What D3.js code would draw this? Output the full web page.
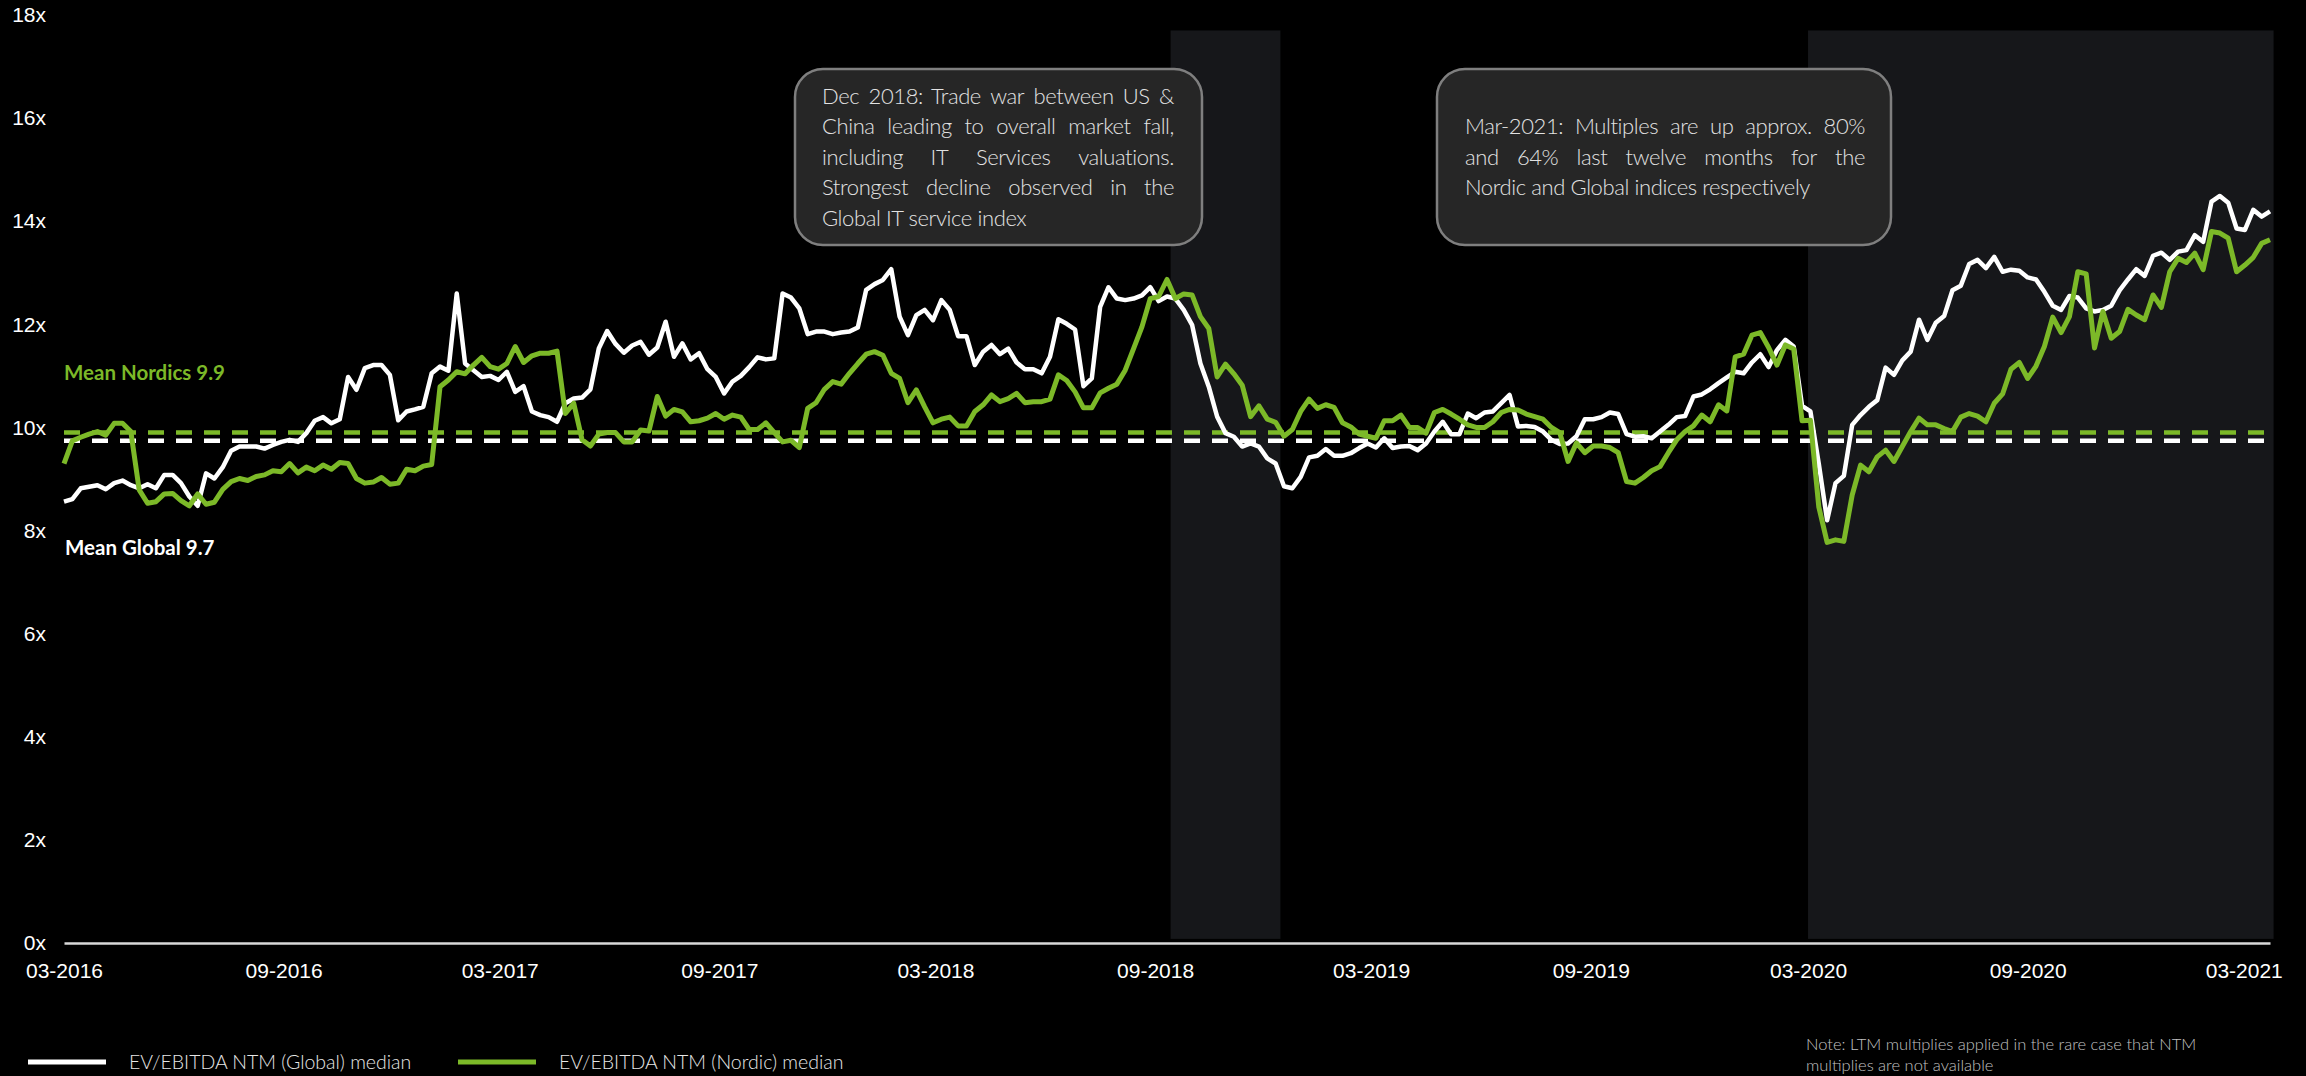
<!DOCTYPE html>
<html><head><meta charset="utf-8">
<script src="https://cdn.jsdelivr.net/npm/d3@7"></script>
<style>
html,body{margin:0;padding:0;background:#000;}
svg{display:block;}
</style></head>
<body>
<svg id="chart" width="2306" height="1076"></svg>
<script>
// ---------- DATA ----------
const seriesStart = "2016-03-01";   // first weekly observation
const seriesEnd = "2021-03-23";     // last weekly observation
const globalMedian = [
8.56,8.61,8.82,8.85,8.88,8.80,8.92,8.97,8.88,8.82,8.90,8.82,9.08,9.08,8.92,8.66,8.48,9.11,9.01,9.23,
9.55,9.63,9.63,9.63,9.59,9.66,9.72,9.76,9.72,9.89,10.13,10.20,10.08,10.16,10.98,10.73,11.15,11.21,11.21,11.02,
10.14,10.31,10.35,10.40,11.05,11.18,11.10,12.60,11.24,11.11,10.98,11.00,10.92,11.08,10.69,10.80,10.31,10.24,10.20,10.11,
10.47,10.56,10.58,10.74,11.53,11.87,11.62,11.45,11.59,11.66,11.41,11.55,12.05,11.37,11.63,11.32,11.44,11.13,10.98,10.66,
10.89,11.00,11.17,11.36,11.32,11.34,12.60,12.52,12.31,11.81,11.86,11.86,11.81,11.84,11.86,11.94,12.67,12.78,12.86,13.07,
12.15,11.79,12.18,12.28,12.08,12.47,12.28,11.77,11.77,11.21,11.47,11.60,11.42,11.53,11.26,11.13,11.13,11.05,11.37,12.10,
12.01,11.90,10.80,10.95,12.34,12.72,12.50,12.47,12.50,12.56,12.72,12.45,12.54,12.50,12.28,11.99,11.24,10.79,10.21,9.89,
9.82,9.63,9.69,9.63,9.40,9.30,8.86,8.82,9.04,9.42,9.45,9.58,9.45,9.45,9.50,9.60,9.69,9.61,9.79,9.60,
9.63,9.64,9.56,9.69,9.92,10.11,9.87,9.87,10.27,10.18,10.29,10.31,10.47,10.63,10.02,10.03,10.01,9.92,9.76,9.68,
9.69,9.83,10.16,10.16,10.20,10.29,10.26,9.87,9.82,9.83,9.79,9.92,10.05,10.20,10.22,10.60,10.64,10.74,10.86,10.97,
11.08,11.05,11.26,11.42,11.17,11.50,11.70,11.57,10.42,10.31,9.30,8.20,8.92,9.06,10.05,10.24,10.40,10.53,11.16,11.02,
11.30,11.47,12.09,11.70,12.03,12.16,12.66,12.75,13.17,13.25,13.09,13.31,13.02,13.06,13.04,12.91,12.87,12.63,12.36,12.28,
12.55,12.52,12.31,12.25,12.28,12.36,12.66,12.87,13.07,12.94,13.33,13.39,13.25,13.41,13.44,13.73,13.60,14.38,14.49,14.36,
13.86,13.83,14.22,14.09,14.19
];
const nordicMedian = [
9.30,9.74,9.81,9.87,9.92,9.85,10.08,10.08,9.92,8.79,8.53,8.56,8.71,8.72,8.58,8.48,8.71,8.51,8.55,8.80,
8.95,9.01,8.97,9.05,9.08,9.16,9.14,9.30,9.12,9.23,9.16,9.27,9.19,9.32,9.30,9.01,8.92,8.94,9.03,8.90,
8.92,9.19,9.16,9.25,9.28,10.79,10.92,11.08,11.04,11.21,11.36,11.18,11.13,11.24,11.57,11.26,11.39,11.44,11.44,11.48,
10.27,10.47,9.76,9.64,9.87,9.90,9.90,9.72,9.72,9.95,9.93,10.60,10.22,10.35,10.30,10.11,10.13,10.18,10.27,10.16,
10.24,10.20,9.96,9.96,10.09,9.90,9.72,9.75,9.61,10.37,10.48,10.74,10.89,10.84,11.05,11.24,11.42,11.47,11.40,11.05,
10.95,10.48,10.73,10.40,10.09,10.16,10.20,10.03,10.03,10.31,10.44,10.63,10.50,10.56,10.66,10.48,10.50,10.50,10.55,11.02,
10.91,10.69,10.38,10.38,10.67,10.76,10.84,11.11,11.53,11.95,12.50,12.54,12.87,12.50,12.59,12.57,12.15,11.92,10.98,11.23,
11.04,10.82,10.21,10.42,10.16,10.10,9.83,9.96,10.31,10.55,10.37,10.44,10.39,10.09,10.01,9.87,9.83,9.79,10.13,10.13,
10.24,10.00,10.00,9.89,10.29,10.35,10.26,10.16,10.05,10.00,10.00,10.11,10.29,10.35,10.34,10.26,10.21,10.16,10.00,9.90,
9.34,9.70,9.51,9.64,9.64,9.61,9.51,8.95,8.92,9.03,9.16,9.24,9.51,9.76,9.92,10.03,10.24,10.11,10.44,10.32,
11.37,11.42,11.79,11.84,11.55,11.21,11.60,11.52,10.13,10.14,8.46,7.77,7.82,7.79,8.69,9.27,9.14,9.43,9.56,9.34,
9.63,9.92,10.18,10.05,10.05,9.98,9.92,10.20,10.27,10.22,10.11,10.47,10.65,11.13,11.26,10.95,11.19,11.57,12.14,11.84,
12.15,13.02,12.98,11.54,12.25,11.73,11.86,12.29,12.18,12.09,12.57,12.33,13.02,13.28,13.20,13.38,13.06,13.80,13.77,13.67,
13.02,13.15,13.30,13.57,13.64
];
const meanNordic = 9.9;
const meanGlobal = 9.74;
const yTicks = [0, 2, 4, 6, 8, 10, 12, 14, 16, 18];
const xTickDates = ["2016-03-01","2016-09-01","2017-03-01","2017-09-01","2018-03-01","2018-09-01",
                    "2019-03-01","2019-09-01","2020-03-01","2020-09-01","2021-03-01"];
const xTickLabels = ["03-2016","09-2016","03-2017","09-2017","03-2018","09-2018",
                     "03-2019","09-2019","03-2020","09-2020","03-2021"];
const shadedPeriods = [["2018-09-14","2018-12-15"],["2020-03-01","2021-03-26"]];
const annotation1 = ["Dec 2018: Trade war between US &","China leading to overall market fall,",
  "including IT Services valuations.","Strongest decline observed in the","Global IT service index"];
const annotation2 = ["Mar-2021: Multiples are up approx. 80%","and 64% last twelve months for the",
  "Nordic and Global indices respectively"];
const legendLabels = ["EV/EBITDA NTM (Global) median","EV/EBITDA NTM (Nordic) median"];
const noteLines = ["Note: LTM multiplies applied in the rare case that NTM","multiplies are not available"];

// ---------- STYLE ----------
const GREEN = "#7cb928";
const WHITE = "#ffffff";
const LABEL_FONT = "'Liberation Sans', Arial, sans-serif";
const TEXT_FONT = "Lato, 'Open Sans', sans-serif";

const parse = d3.utcParse("%Y-%m-%d");
const svg = d3.select("#chart");
svg.append("rect").attr("width", 2306).attr("height", 1076).attr("fill", "#000");

const t0 = parse(seriesStart);
const dates = globalMedian.map((_, i) => d3.utcDay.offset(t0, 7 * i));

const x = d3.scaleUtc().domain([t0, parse(seriesEnd)]).range([64, 2270]);
const y = d3.scaleLinear().domain([0, 18]).range([943, 15]);

// shaded periods
svg.append("g").selectAll("rect").data(shadedPeriods).join("rect")
  .attr("x", d => x(parse(d[0])))
  .attr("width", d => x(parse(d[1])) - x(parse(d[0])))
  .attr("y", y(17.7))
  .attr("height", y(0.08) - y(17.7))
  .attr("fill", "#16171a");

// y axis
const yAxis = svg.append("g").attr("transform", `translate(${x.range()[0]},0)`)
  .call(d3.axisLeft(y).tickValues(yTicks).tickFormat(d => d + "x").tickSize(0).tickPadding(18));
yAxis.select(".domain").remove();
yAxis.selectAll("text").attr("fill", "#fff").style("font-family", LABEL_FONT).style("font-size", "21px");

// x axis
const xAxis = svg.append("g").attr("transform", `translate(0,${y(0)})`)
  .call(d3.axisBottom(x).tickValues(xTickDates.map(parse))
    .tickFormat((d, i) => xTickLabels[i]).tickSize(0).tickSizeOuter(0).tickPadding(20));
xAxis.select(".domain").attr("stroke", "#d9d9d9").attr("stroke-width", 2.5);
xAxis.selectAll("text").attr("fill", "#fff").style("font-family", LABEL_FONT).style("font-size", "21px");

// mean lines
const meanG = svg.append("g");
[[meanNordic, GREEN], [meanGlobal, WHITE]].forEach(([m, c]) => {
  meanG.append("line")
    .attr("x1", x.range()[0]).attr("x2", x.range()[1])
    .attr("y1", y(m)).attr("y2", y(m))
    .attr("stroke", c).attr("stroke-width", 4.5).attr("stroke-dasharray", "16,12");
});

// series lines
const line = d3.line().x((d, i) => x(dates[i])).y(d => y(d)).curve(d3.curveLinear);
svg.append("path").datum(globalMedian).attr("d", line)
  .attr("fill", "none").attr("stroke", WHITE).attr("stroke-width", 4.5).attr("stroke-linejoin", "round");
svg.append("path").datum(nordicMedian).attr("d", line)
  .attr("fill", "none").attr("stroke", GREEN).attr("stroke-width", 5).attr("stroke-linejoin", "round");

// mean labels
svg.append("text").attr("x", 64).attr("y", y(meanNordic) - 60).attr("dy", "0.35em")
  .attr("fill", GREEN).style("font-family", TEXT_FONT).style("font-weight", 700).style("font-size", "20.5px")
  .text("Mean Nordics " + meanNordic.toFixed(1));
svg.append("text").attr("x", 65).attr("y", y(meanGlobal) + 107).attr("dy", "0.35em")
  .attr("fill", WHITE).style("font-family", TEXT_FONT).style("font-weight", 700).style("font-size", "20.5px")
  .text("Mean Global " + meanGlobal.toFixed(1));

// annotation boxes with justified text
function drawBox(lines, bx, by, bw, bh, padL, padR) {
  const g = svg.append("g");
  g.append("rect").attr("x", bx).attr("y", by).attr("width", bw).attr("height", bh)
    .attr("rx", 28).attr("ry", 28).attr("fill", "#262626").attr("stroke", "#7f7f7f").attr("stroke-width", 2.5);
  const lh = 30.5;
  const cy = by + bh / 2;
  const tx = bx + padL, tw = bw - padL - padR;
  lines.forEach((ln, k) => {
    const yy = cy + (k - (lines.length - 1) / 2) * lh;
    const t = g.append("text").attr("y", yy).attr("dy", "0.35em").attr("fill", "#e2e2e2")
      .style("font-family", TEXT_FONT).style("font-weight", 300).style("font-size", "22px")
      .style("letter-spacing", "-0.4px");
    if (k === lines.length - 1) {
      t.attr("x", tx).text(ln);
    } else {
      const words = ln.split(" ");
      const spans = words.map(w => t.append("tspan").text(w));
      const widths = spans.map(s => s.node().getComputedTextLength());
      const gap = (tw - d3.sum(widths)) / (words.length - 1);
      let cx = tx;
      spans.forEach((s, i) => { s.attr("x", cx); cx += widths[i] + gap; });
    }
  });
}
drawBox(annotation1, 795, 69, 407, 176, 27, 28);
drawBox(annotation2, 1437, 69, 454, 176, 28, 26);

// legend
const legend = svg.append("g");
[[WHITE, 28, 129], [GREEN, 458, 559]].forEach(([c, lx, tx], i) => {
  legend.append("line").attr("x1", lx).attr("x2", lx + 78).attr("y1", 1062).attr("y2", 1062)
    .attr("stroke", c).attr("stroke-width", 5);
  legend.append("text").attr("x", tx).attr("y", 1062).attr("dy", "0.35em").attr("fill", "#e6e6e6")
    .style("font-family", TEXT_FONT).style("font-weight", 300).style("font-size", "19.5px")
    .text(legendLabels[i]);
});

// note
noteLines.forEach((ln, k) => {
  svg.append("text").attr("x", 1806).attr("y", 1044 + k * 21).attr("dy", "0.35em").attr("fill", "#c0c0c0")
    .style("font-family", TEXT_FONT).style("font-weight", 300).style("font-size", "16.5px").text(ln);
});
</script>
</body></html>
